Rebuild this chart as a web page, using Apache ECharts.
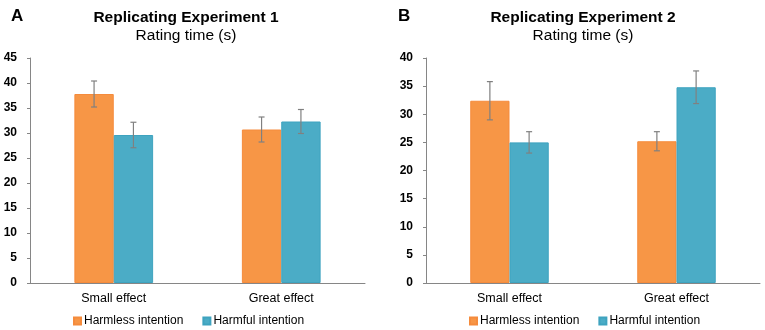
<!DOCTYPE html>
<html><head><meta charset="utf-8">
<script src="https://cdn.jsdelivr.net/npm/echarts@6/dist/echarts.min.js"></script>
<style>html,body{margin:0;padding:0;background:#fff}#c{width:765px;height:330px}</style>
</head><body><div id="c"></div>
<script>
const categories = ['Small effect', 'Great effect'];
const seriesNames = ['Harmless intention', 'Harmful intention'];
const exp1Harmless = [37.8, 30.7];
const exp1HarmlessErr = [2.6, 2.5];
const exp1Harmful = [29.6, 32.3];
const exp1HarmfulErr = [2.55, 2.4];
const exp2Harmless = [32.4, 25.2];
const exp2HarmlessErr = [3.4, 1.7];
const exp2Harmful = [25.0, 34.8];
const exp2HarmfulErr = [1.9, 2.9];
const titles = ['Replicating Experiment 1', 'Replicating Experiment 2'];
const subtitle = 'Rating time (s)';
const panelLetters = ['A', 'B'];
const yMax = [45, 40];

const ORANGE = '#F79646', BLUE = '#4BACC6';
const FONT = 'Liberation Sans, Arial, sans-serif';
const catGap = '53%';

function bar(name, data, idx, color, border) {
  return { name, type: 'bar', xAxisIndex: idx, yAxisIndex: idx, data,
    barGap: 0, barCategoryGap: catGap,
    itemStyle: { color, borderColor: border, borderWidth: 1 }, z: 2 };
}
function errSeries(vals, errs, idx, side) {
  return { type: 'custom', xAxisIndex: idx, yAxisIndex: idx, z: 5, silent: true,
    data: vals.map((v, i) => [i, v, errs[i]]),
    renderItem: function (params, api) {
      const i = api.value(0), v = api.value(1), e = api.value(2);
      const catW = api.size([1, 0])[0];
      const bw = catW * 0.235;
      const base = api.coord([i, v]);
      const x = base[0] + side * bw / 2;
      const yt = api.coord([i, v + e])[1];
      const yb = api.coord([i, v - e])[1];
      const cap = 3;
      const st = { stroke: '#808080', lineWidth: 1.2 };
      return { type: 'group', children: [
        { type: 'line', shape: { x1: x, y1: yt, x2: x, y2: yb }, style: st },
        { type: 'line', shape: { x1: x - cap, y1: yt, x2: x + cap, y2: yt }, style: st },
        { type: 'line', shape: { x1: x - cap, y1: yb, x2: x + cap, y2: yb }, style: st }
      ]};
    }
  };
}
function yAx(idx) {
  return { type: 'value', gridIndex: idx, min: 0, max: yMax[idx], interval: 5,
    splitLine: { show: false },
    axisLine: { show: true, lineStyle: { color: '#868686', width: 1 } },
    axisTick: { show: true, length: 3, lineStyle: { color: '#868686' } },
    axisLabel: { color: '#000', fontWeight: 'bold', fontSize: 12, fontFamily: FONT, margin: 13 } };
}
function xAx(idx) {
  return { type: 'category', gridIndex: idx, data: categories,
    axisLine: { lineStyle: { color: '#868686', width: 1 } },
    axisTick: { show: false },
    axisLabel: { color: '#000', fontSize: 12.5, fontFamily: FONT, margin: 9 } };
}
const chart = echarts.init(document.getElementById('c'));
chart.setOption({
  animation: false,
  backgroundColor: '#fff',
  grid: [
    { left: 30, right: 400, top: 58, bottom: 47 },
    { left: 426, right: 5, top: 58, bottom: 47 }
  ],
  xAxis: [xAx(0), xAx(1)],
  yAxis: [yAx(0), yAx(1)],
  legend: [
    { left: 68, top: 310, data: seriesNames, icon: 'rect', itemWidth: 7, itemHeight: 7, itemGap: 19,
      textStyle: { fontSize: 12, fontFamily: FONT, color: '#000', padding: [0, 0, 0, -2] } },
    { left: 464, top: 310, data: seriesNames, icon: 'rect', itemWidth: 7, itemHeight: 7, itemGap: 19,
      textStyle: { fontSize: 12, fontFamily: FONT, color: '#000', padding: [0, 0, 0, -2] } }
  ],
  graphic: [
    { type: 'text', left: 11, top: 8, style: { text: panelLetters[0], font: 'bold 17px ' + FONT, fill: '#000' } },
    { type: 'text', left: 398, top: 8, style: { text: panelLetters[1], font: 'bold 17px ' + FONT, fill: '#000' } },
    { type: 'text', x: 186, y: 18, style: { text: titles[0], font: 'bold 15.5px ' + FONT, fill: '#000', textAlign: 'center', textVerticalAlign: 'middle' } },
    { type: 'text', x: 186, y: 36, style: { text: subtitle, font: '15.5px ' + FONT, fill: '#000', textAlign: 'center', textVerticalAlign: 'middle' } },
    { type: 'text', x: 583, y: 18, style: { text: titles[1], font: 'bold 15.5px ' + FONT, fill: '#000', textAlign: 'center', textVerticalAlign: 'middle' } },
    { type: 'text', x: 583, y: 36, style: { text: subtitle, font: '15.5px ' + FONT, fill: '#000', textAlign: 'center', textVerticalAlign: 'middle' } }
  ],
  series: [
    bar(seriesNames[0], exp1Harmless, 0, ORANGE, '#F58B3C'),
    bar(seriesNames[1], exp1Harmful, 0, BLUE, '#3EA3BF'),
    bar(seriesNames[0], exp2Harmless, 1, ORANGE, '#F58B3C'),
    bar(seriesNames[1], exp2Harmful, 1, BLUE, '#3EA3BF'),
    errSeries(exp1Harmless, exp1HarmlessErr, 0, -1),
    errSeries(exp1Harmful, exp1HarmfulErr, 0, 1),
    errSeries(exp2Harmless, exp2HarmlessErr, 1, -1),
    errSeries(exp2Harmful, exp2HarmfulErr, 1, 1)
  ]
});
</script></body></html>
